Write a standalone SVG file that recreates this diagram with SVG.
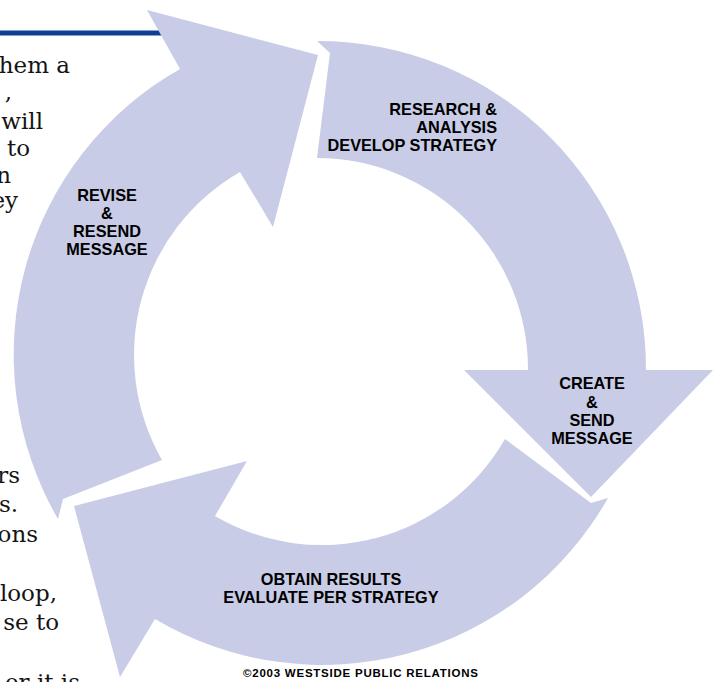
<svg xmlns="http://www.w3.org/2000/svg" width="714" height="682" viewBox="0 0 714 682">
<style>
.body{font-family:"DejaVu Serif","Liberation Serif",serif;font-size:23px;fill:#141414;text-anchor:end}
.arrow{fill:#c8cce6}
.lbl{font-family:"Liberation Sans",Arial,sans-serif;font-weight:bold;font-size:16.3px;fill:#000}
.c{text-anchor:middle}
.r{text-anchor:end}
.copy{font-family:"Liberation Sans",Arial,sans-serif;font-weight:bold;font-size:11.5px;fill:#000;text-anchor:middle}
</style>
<rect width="714" height="682" fill="#ffffff"/>
<g id="slide-text">
<rect x="0" y="30.5" width="170" height="5" fill="#0f3f94"/>
<text class="body" x="70" y="73">hem a</text>
<text class="body" x="12" y="100">,</text>
<text class="body" x="43" y="129">will</text>
<text class="body" x="30" y="156">to</text>
<text class="body" x="11" y="183">n</text>
<text class="body" x="18" y="208">ey</text>
<text class="body" x="20" y="483">rs</text>
<text class="body" x="18" y="512">s.</text>
<text class="body" x="38" y="542">ons</text>
<text class="body" x="57" y="601">loop,</text>
<text class="body" x="59" y="630">se to</text>
<text class="body" x="80" y="690">er it is</text>
</g>
<g id="node-research">
<path class="arrow" d="M317,41 A328,328 0 0 1 646,370 L713,370 L591,497 L464,370 L528,370 A211,211 0 0 0 317,158 L330,53 Z"/>
<text class="lbl r" x="497" y="115">RESEARCH &amp;</text>
<text class="lbl r" x="497" y="132.7">ANALYSIS</text>
<text class="lbl r" x="497" y="150.5">DEVELOP STRATEGY</text>
<text class="lbl c" x="592" y="389.3">CREATE</text>
<text class="lbl c" x="592" y="408">&amp;</text>
<text class="lbl c" x="592" y="426">SEND</text>
<text class="lbl c" x="592" y="444">MESSAGE</text>
</g>
<g id="node-obtain">
<path class="arrow" d="M608,498 A328,328 0 0 1 155,619 L120,677 L74,506 L247,461 L215,516 A211,211 0 0 0 505,439 L591,503 Z"/>
<text class="lbl c" x="331" y="585">OBTAIN RESULTS</text>
<text class="lbl c" x="331" y="603.3">EVALUATE PER STRATEGY</text>
</g>
<g id="node-revise">
<path class="arrow" d="M58,519 A328,328 0 0 1 180,69 L147,10 L318,55 L273,227 L240,172 A211,211 0 0 0 162,460 L63,499 Z"/>
<text class="lbl c" x="107" y="200.7">REVISE</text>
<text class="lbl c" x="107" y="219">&amp;</text>
<text class="lbl c" x="107" y="236.7">RESEND</text>
<text class="lbl c" x="107" y="255">MESSAGE</text>
</g>
<g id="footer">
<text class="copy" x="360.5" y="677" textLength="235" lengthAdjust="spacing">©2003 WESTSIDE PUBLIC RELATIONS</text>
</g>
</svg>
